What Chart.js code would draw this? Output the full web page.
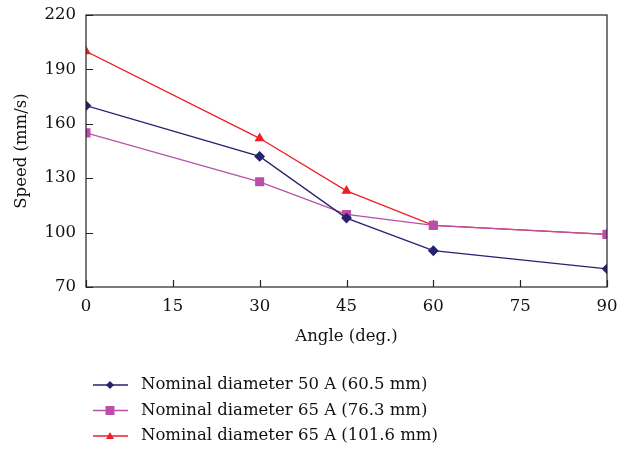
<!DOCTYPE html>
<html lang="en">
<head>
    <meta charset="UTF-8">
    <title>Speed vs Angle</title>
    <script src="https://cdn.jsdelivr.net/npm/chart.js@4.4.1/dist/chart.umd.min.js"></script>
    <style>
        html, body { margin: 0; padding: 0; background: #fff; }
        #wrap { width: 634px; height: 451px; position: relative; }
    </style>
</head>
<body>
    <div id="wrap"><canvas id="speedChart"></canvas></div>

    <script>
        // Data
        const angles = [0, 30, 45, 60, 90];
        const xTicks = [0, 15, 30, 45, 60, 75, 90];
        const yTicks = [70, 100, 130, 160, 190, 220];
        const seriesNames = [
            'Nominal diameter 50 A (60.5 mm)',
            'Nominal diameter 65 A (76.3 mm)',
            'Nominal diameter 65 A (101.6 mm)'
        ];
        const speed50 = [170, 142, 108, 90, 80];
        const speed65a = [155, 128, 110, 104, 99];
        const speed65b = [200, 152, 123, 104, 99];

        const FONT = "'DejaVu Serif', 'Liberation Serif', serif";
        const FS = 16.5;

        function toPoints(vals) {
            return angles.map((a, i) => ({ x: a, y: vals[i] }));
        }

        // box around the plot + inward tick marks
        const frame = {
            id: 'frame',
            afterDatasetsDraw(chart) {
                const { ctx, chartArea: a, scales } = chart;
                ctx.save();
                ctx.strokeStyle = '#222';
                ctx.lineWidth = 1.2;
                ctx.strokeRect(a.left, a.top, a.right - a.left, a.bottom - a.top);
                ctx.beginPath();
                xTicks.forEach(t => {
                    const px = Math.round(scales.x.getPixelForValue(t)) + 0.5;
                    ctx.moveTo(px, a.bottom);
                    ctx.lineTo(px, a.bottom - 7);
                });
                yTicks.forEach(t => {
                    const py = Math.round(scales.y.getPixelForValue(t)) + 0.5;
                    ctx.moveTo(a.left, py);
                    ctx.lineTo(a.left + 7, py);
                });
                ctx.stroke();
                ctx.restore();
            }
        };

        // legend drawn below the axis title, left aligned
        const bottomLegend = {
            id: 'bottomLegend',
            afterDraw(chart) {
                const { ctx } = chart;
                ctx.save();
                chart.data.datasets.forEach((ds, i) => {
                    const y = 385 + i * 25.5;
                    ctx.strokeStyle = ds.borderColor;
                    ctx.lineWidth = 1.5;
                    ctx.beginPath();
                    ctx.moveTo(93, y);
                    ctx.lineTo(128, y);
                    ctx.stroke();
                    ctx.fillStyle = ds.pointBackgroundColor;
                    ctx.beginPath();
                    if (ds.pointStyle === 'rectRot') {
                        ctx.moveTo(110, y - 4); ctx.lineTo(114, y); ctx.lineTo(110, y + 4); ctx.lineTo(106, y);
                    } else if (ds.pointStyle === 'rect') {
                        ctx.rect(105.5, y - 4.5, 9, 9);
                    } else {
                        ctx.moveTo(110, y - 4); ctx.lineTo(114, y + 3); ctx.lineTo(106, y + 3);
                    }
                    ctx.closePath();
                    ctx.fill();
                    ctx.fillStyle = '#111';
                    ctx.font = FS + 'px ' + FONT;
                    ctx.textBaseline = 'middle';
                    ctx.fillText(ds.label, 141, y);
                });
                ctx.restore();
            }
        };

        const ctx = document.getElementById('speedChart').getContext('2d');
        new Chart(ctx, {
            type: 'line',
            data: {
                datasets: [{
                    label: seriesNames[0],
                    data: toPoints(speed50),
                    borderColor: '#25226e',
                    pointBackgroundColor: '#25226e',
                    pointBorderColor: '#25226e',
                    pointStyle: 'rectRot',
                    pointRadius: 4.5,
                    borderWidth: 1.3
                }, {
                    label: seriesNames[1],
                    data: toPoints(speed65a),
                    borderColor: '#b94fa8',
                    pointBackgroundColor: '#b94fa8',
                    pointBorderColor: '#b94fa8',
                    pointStyle: 'rect',
                    pointRadius: 5.5,
                    borderWidth: 1.3
                }, {
                    label: seriesNames[2],
                    data: toPoints(speed65b),
                    borderColor: '#ee1f26',
                    pointBackgroundColor: '#ee1f26',
                    pointBorderColor: '#ee1f26',
                    pointStyle: 'triangle',
                    pointRadius: 4.5,
                    borderWidth: 1.3
                }]
            },
            options: {
                responsive: true,
                maintainAspectRatio: false,
                animation: false,
                layout: { padding: { top: 15, right: 27, bottom: 100, left: 0 } },
                plugins: {
                    legend: { display: false },
                    tooltip: { enabled: false }
                },
                scales: {
                    x: {
                        type: 'linear',
                        min: 0,
                        max: 90,
                        afterBuildTicks: s => { s.ticks = xTicks.map(v => ({ value: v })); },
                        grid: { display: false },
                        border: { display: false },
                        ticks: { color: '#111', font: { family: FONT, size: FS }, padding: 2, maxRotation: 0 },
                        title: { display: true, text: 'Angle (deg.)', color: '#111', font: { family: FONT, size: FS }, padding: { top: 8 } },
                        afterFit: s => { s.height = 64; s.paddingLeft = 0; s.paddingRight = 0; }
                    },
                    y: {
                        min: 70,
                        max: 220,
                        afterBuildTicks: s => { s.ticks = yTicks.map(v => ({ value: v })); },
                        grid: { display: false },
                        border: { display: false },
                        ticks: { color: '#111', font: { family: FONT, size: FS }, padding: 2 },
                        title: { display: true, text: 'Speed (mm/s)', color: '#111', font: { family: FONT, size: FS }, padding: { top: 12, bottom: 4 } },
                        afterFit: s => { s.width = 86; s.paddingTop = 0; s.paddingBottom = 0; }
                    }
                }
            },
            plugins: [frame, bottomLegend]
        });
    </script>
</body>
</html>
